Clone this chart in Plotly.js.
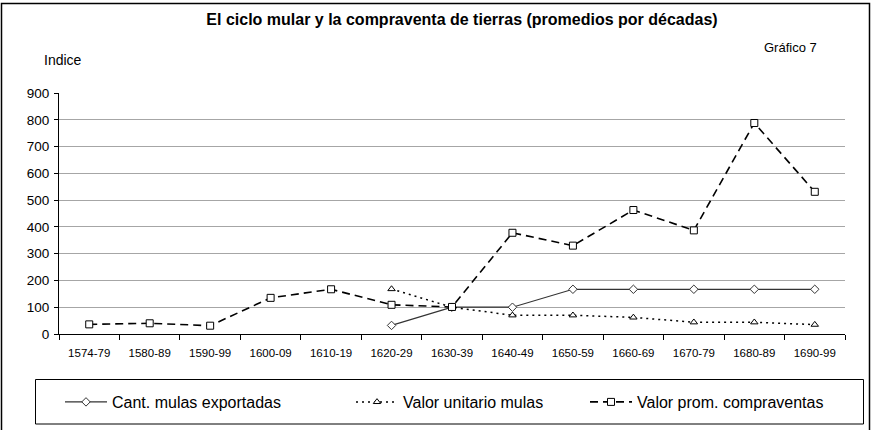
<!DOCTYPE html>
<html>
<head>
<meta charset="utf-8">
<script src="https://cdn.plot.ly/plotly-3.0.1.min.js"></script>
<style>
  html, body { margin: 0; padding: 0; background: #fff; }
  #chart { width: 873px; height: 430px; }
</style>
</head>
<body>
<div id="chart"></div>
<script>
const categories = ['1574-79','1580-89','1590-99','1600-09','1610-19','1620-29','1630-39','1640-49','1650-59','1660-69','1670-79','1680-89','1690-99'];
const cantMulas = [null, null, null, null, null, 32, 100, 100, 167, 167, 167, 167, 167];
const valorUnitario = [null, null, null, null, null, 168, 100, 70, 70, 62, 44, 44, 35];
const valorProm = [36, 40, 31, 135, 167, 109, 101, 378, 330, 463, 387, 788, 531];
const seriesNames = ['Cant. mulas exportadas', 'Valor unitario mulas', 'Valor prom. compraventas'];
const chartTitle = 'El ciclo mular y la compraventa de tierras (promedios por décadas)';
const noteText = 'Gráfico 7';
const yLabel = 'Indice';

const W = 873, H = 430;
const L = 59, R = 845, T = 93, B = 334;
const px = v => (v - L) / (R - L);
const py = v => (B - v) / (B - T);
const cx = v => v / W;
const cy = v => 1 - v / H;

const FONT = '"Liberation Sans", Arial, sans-serif';

const traces = [
  {
    x: categories, y: cantMulas, name: seriesNames[0], type: 'scatter', mode: 'lines+markers',
    line: {color: '#333333', width: 1.2},
    marker: {symbol: 'diamond', size: 6.5, color: '#ffffff', line: {width: 1, color: '#333333'}},
    legend: 'legend'
  },
  {
    x: categories, y: valorUnitario, name: seriesNames[1], type: 'scatter', mode: 'lines+markers',
    line: {color: '#000000', width: 1.5, dash: '2px,4px'},
    marker: {symbol: 'triangle-up', size: 6.5, color: '#ffffff', line: {width: 1, color: '#000000'}},
    legend: 'legend2'
  },
  {
    x: categories, y: valorProm, name: seriesNames[2], type: 'scatter', mode: 'lines+markers',
    line: {color: '#000000', width: 1.6, dash: '8px,5px'},
    marker: {symbol: 'square', size: 7, color: '#ffffff', line: {width: 1, color: '#000000'}},
    legend: 'legend3'
  }
];

const legendBase = {
  xref: 'container', yref: 'container', xanchor: 'left', yanchor: 'middle',
  orientation: 'h', bgcolor: 'rgba(0,0,0,0)', borderwidth: 0,
  font: {family: FONT, size: 16, color: '#000'}, itemwidth: 42
};

const layout = {
  width: W, height: H,
  margin: {l: L, r: W - R, t: T, b: H - B, pad: 0},
  paper_bgcolor: '#ffffff', plot_bgcolor: '#ffffff',
  font: {family: FONT, color: '#000'},
  title: {
    text: '<b>' + chartTitle + '</b>',
    font: {family: FONT, size: 16, color: '#000'},
    xref: 'container', yref: 'container', x: 462 / W, y: cy(19), xanchor: 'center', yanchor: 'middle'
  },
  xaxis: {
    type: 'category', range: [-0.5, 12.5],
    showgrid: false, showline: true, linecolor: '#000', linewidth: 1,
    ticks: 'outside', tickson: 'boundaries', ticklen: 5, tickcolor: '#000',
    ticklabelstandoff: 8,
    tickfont: {family: FONT, size: 11.5, color: '#000'}, fixedrange: true
  },
  yaxis: {
    range: [0, 900], dtick: 100, tick0: 0,
    showgrid: true, gridcolor: '#a6a6a6', gridwidth: 1,
    showline: true, linecolor: '#000', linewidth: 1,
    ticks: 'outside', ticklen: 4, tickcolor: '#000', ticklabelstandoff: 2,
    tickfont: {family: FONT, size: 13.5, color: '#000'}, zeroline: false, fixedrange: true
  },
  showlegend: true,
  legend: Object.assign({}, legendBase, {x: cx(60), y: cy(402)}),
  legend2: Object.assign({}, legendBase, {x: cx(351), y: cy(402)}),
  legend3: Object.assign({}, legendBase, {x: cx(585), y: cy(402)}),
  annotations: [
    {text: noteText, xref: 'paper', yref: 'paper', x: px(790), y: py(47), showarrow: false,
     xanchor: 'center', yanchor: 'middle', font: {family: FONT, size: 13, color: '#000'}},
    {text: yLabel, xref: 'paper', yref: 'paper', x: px(42), y: py(60), showarrow: false,
     xanchor: 'left', yanchor: 'middle', font: {family: FONT, size: 14, color: '#000'}}
  ],
  shapes: [
    {type: 'rect', xref: 'paper', yref: 'paper', x0: px(1.5), x1: px(869.5), y0: py(440), y1: py(3.5),
     line: {color: '#000', width: 1.5}, fillcolor: 'rgba(0,0,0,0)', layer: 'below'},
    {type: 'rect', xref: 'paper', yref: 'paper', x0: px(35.5), x1: px(863.5), y0: py(424), y1: py(379.5),
     line: {color: '#000', width: 1}, fillcolor: 'rgba(0,0,0,0)', layer: 'below'}
  ]
};

Plotly.newPlot('chart', traces, layout, {displayModeBar: false, staticPlot: true});
</script>
</body>
</html>
